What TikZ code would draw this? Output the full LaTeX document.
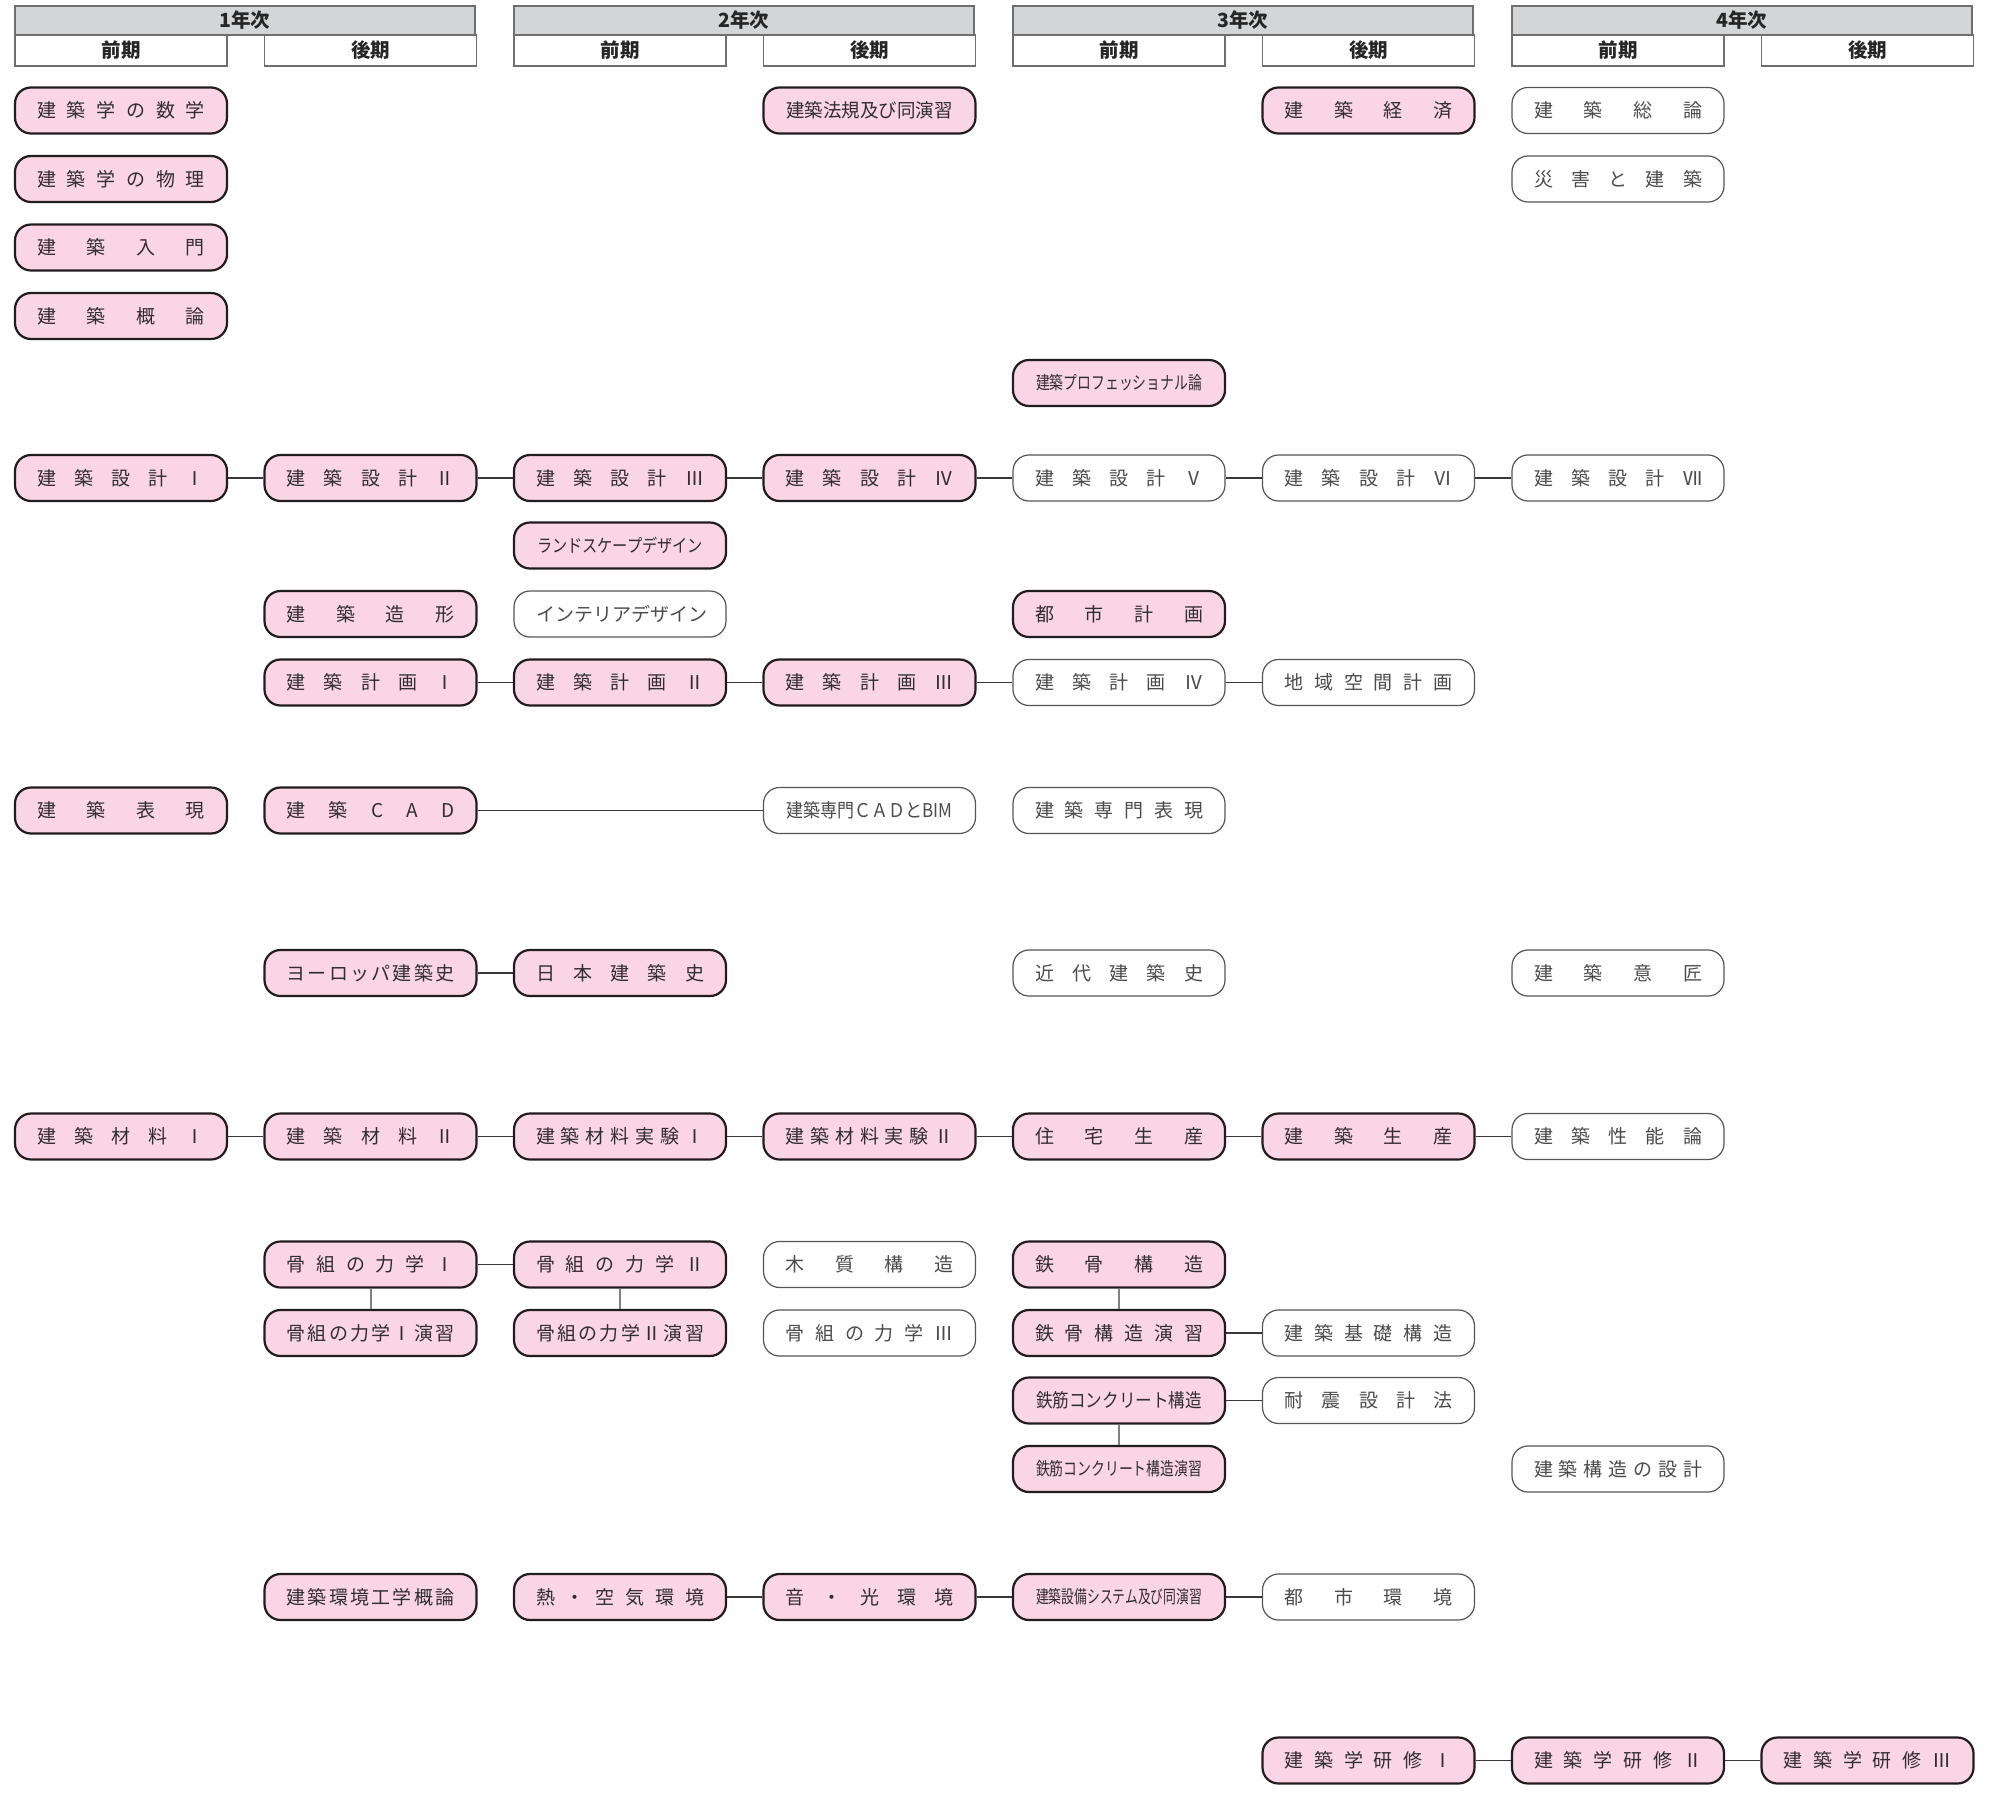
\documentclass[tikz,border=0pt]{standalone}
\usepackage{fontspec}
\usepackage{graphicx}
\newfontfamily\cjk{Noto Sans CJK JP}
\definecolor{pkfill}{RGB}{249,213,229}
\definecolor{pkline}{RGB}{35,28,28}
\definecolor{pktext}{RGB}{50,45,48}
\definecolor{wtline}{RGB}{85,85,85}
\definecolor{wttext}{RGB}{75,75,75}
\definecolor{hdfill}{RGB}{212,213,214}
\definecolor{hdline}{RGB}{110,110,110}
\definecolor{cnline}{RGB}{55,55,55}
\definecolor{vline}{RGB}{128,128,128}
% spread characters evenly across a fixed width
\def\spreadA#1{\ifx#1\relax\else#1\expandafter\spreadB\fi}
\def\spreadB#1{\ifx#1\relax\else\hfill#1\expandafter\spreadB\fi}
\newcommand\spr[1]{\hbox to 168pt{\spreadA#1\relax}}
\newsavebox\lbbox
\newcommand\fitlab[1]{\sbox\lbbox{#1}\ifdim\wd\lbbox>166pt\scalebox{\fpeval{166/(\the\wd\lbbox)}}[1]{\usebox\lbbox}\else\usebox\lbbox\fi}
\newcommand\smallf{\fontsize{18}{18}\selectfont}
\tikzset{
  box/.style={rounded corners=16pt, minimum width=212pt, minimum height=46pt,
    inner sep=0pt, font=\cjk\fontsize{19}{19}\selectfont},
  pk/.style={box, draw=pkline, line width=2.2pt, fill=pkfill, text=pktext},
  wt/.style={box, draw=wtline, line width=1.2pt, fill=white, text=wttext},
  yr/.style={draw=hdline, line width=1.2pt, fill=hdfill, minimum width=460pt,
    minimum height=29pt, inner sep=0pt, font=\cjk\bfseries\fontsize{19.5}{19.5}\selectfont, text=black!85},
  sem/.style={draw=hdline, line width=1.2pt, fill=white, minimum width=212pt,
    minimum height=31pt, inner sep=0pt, font=\cjk\bfseries\fontsize{19.5}{19.5}\selectfont, text=black!85},
  conn/.style={draw=cnline, line width=1.5pt},
  vconn/.style={draw=vline, line width=2pt}
}
\begin{document}
\begin{tikzpicture}[x=1pt,y=-1pt]
\useasboundingbox (0,0) rectangle (1989,1811);
% header
\foreach \k/\t in {0/1年次,1/2年次,2/3年次,3/4年次}{
  \node[yr] (yr\k) at ({245+499*\k},20.5) {\t};
  \node[sem] (zen\k) at ({121+499*\k},50.5) {前期};
  \node[sem] (kou\k) at ({370.5+499*\k},50.5) {後期};
}
% column centres: 121 + 249.5 k
\def\cA{121}\def\cB{370.5}\def\cC{620}\def\cD{869.5}
\def\cE{1119}\def\cF{1368.5}\def\cG{1618}\def\cH{1867.5}
% row 1-5
\node[pk] (suugaku) at (\cA,110.5) {\spr{建築学の数学}};
\node[pk] (houki) at (\cD,110.5) {\fitlab{建築法規及び同演習}};
\node[pk] (keizai) at (\cF,110.5) {\spr{建築経済}};
\node[wt] (souron) at (\cG,110.5) {\spr{建築総論}};
\node[pk] (butsuri) at (\cA,179) {\spr{建築学の物理}};
\node[wt] (saigai) at (\cG,179) {\spr{災害と建築}};
\node[pk] (nyumon) at (\cA,247.5) {\spr{建築入門}};
\node[pk] (gairon) at (\cA,316) {\spr{建築概論}};
\node[pk] (prof) at (\cE,383) {\fitlab{\smallf 建築プロフェッショナル論}};
% design
\node[pk] (s1) at (\cA,478) {\spr{建築設計Ⅰ}};
\node[pk] (s2) at (\cB,478) {\spr{建築設計Ⅱ}};
\node[pk] (s3) at (\cC,478) {\spr{建築設計Ⅲ}};
\node[pk] (s4) at (\cD,478) {\spr{建築設計Ⅳ}};
\node[wt] (s5) at (\cE,478) {\spr{建築設計Ⅴ}};
\node[wt] (s6) at (\cF,478) {\spr{建築設計Ⅵ}};
\node[wt] (s7) at (\cG,478) {\spr{建築設計Ⅶ}};
\node[pk] (land) at (\cC,545.5) {\fitlab{\smallf ランドスケープデザイン}};
\node[pk] (zoukei) at (\cB,614) {\spr{建築造形}};
\node[wt] (interior) at (\cC,614) {\spr{インテリアデザイン}};
\node[pk] (toshi) at (\cE,614) {\spr{都市計画}};
% planning
\node[pk] (p1) at (\cB,682.5) {\spr{建築計画Ⅰ}};
\node[pk] (p2) at (\cC,682.5) {\spr{建築計画Ⅱ}};
\node[pk] (p3) at (\cD,682.5) {\spr{建築計画Ⅲ}};
\node[wt] (p4) at (\cE,682.5) {\spr{建築計画Ⅳ}};
\node[wt] (p5) at (\cF,682.5) {\spr{地域空間計画}};
% expression
\node[pk] (hyogen) at (\cA,810.5) {\spr{建築表現}};
\node[pk] (cad) at (\cB,810.5) {\spr{建築CAD}};
\node[wt] (bim) at (\cD,810.5) {\fitlab{建築専門ＣＡＤとBIM}};
\node[wt] (senmon) at (\cE,810.5) {\spr{建築専門表現}};
% history
\node[pk] (europe) at (\cB,973) {\spr{ヨーロッパ建築史}};
\node[pk] (nihon) at (\cC,973) {\spr{日本建築史}};
\node[wt] (kindai) at (\cE,973) {\spr{近代建築史}};
\node[wt] (isho) at (\cG,973) {\spr{建築意匠}};
% materials
\node[pk] (m1) at (\cA,1136.5) {\spr{建築材料Ⅰ}};
\node[pk] (m2) at (\cB,1136.5) {\spr{建築材料Ⅱ}};
\node[pk] (m3) at (\cC,1136.5) {\spr{建築材料実験Ⅰ}};
\node[pk] (m4) at (\cD,1136.5) {\spr{建築材料実験Ⅱ}};
\node[pk] (m5) at (\cE,1136.5) {\spr{住宅生産}};
\node[pk] (m6) at (\cF,1136.5) {\spr{建築生産}};
\node[wt] (m7) at (\cG,1136.5) {\spr{建築性能論}};
% structures
\node[pk] (f1) at (\cB,1264.5) {\spr{骨組の力学Ⅰ}};
\node[pk] (f2) at (\cC,1264.5) {\spr{骨組の力学Ⅱ}};
\node[wt] (mokushitsu) at (\cD,1264.5) {\spr{木質構造}};
\node[pk] (tekkotsu) at (\cE,1264.5) {\spr{鉄骨構造}};
\node[pk] (f1e) at (\cB,1333) {\spr{骨組の力学Ⅰ演習}};
\node[pk] (f2e) at (\cC,1333) {\spr{骨組の力学Ⅱ演習}};
\node[wt] (f3) at (\cD,1333) {\spr{骨組の力学Ⅲ}};
\node[pk] (tekkotsue) at (\cE,1333) {\spr{鉄骨構造演習}};
\node[wt] (kiso) at (\cF,1333) {\spr{建築基礎構造}};
\node[pk] (rc) at (\cE,1400.5) {\fitlab{鉄筋コンクリート構造}};
\node[wt] (taishin) at (\cF,1400.5) {\spr{耐震設計法}};
\node[pk] (rce) at (\cE,1469) {\fitlab{\smallf 鉄筋コンクリート構造演習}};
\node[wt] (kozosekkei) at (\cG,1469) {\spr{建築構造の設計}};
% environment
\node[pk] (e1) at (\cB,1597) {\spr{建築環境工学概論}};
\node[pk] (e2) at (\cC,1597) {\spr{熱・空気環境}};
\node[pk] (e3) at (\cD,1597) {\spr{音・光環境}};
\node[pk] (e4) at (\cE,1597) {\fitlab{\smallf 建築設備システム及び同演習}};
\node[wt] (e5) at (\cF,1597) {\spr{都市環境}};
% training
\node[pk] (k1) at (\cF,1760.5) {\spr{建築学研修Ⅰ}};
\node[pk] (k2) at (\cG,1760.5) {\spr{建築学研修Ⅱ}};
\node[pk] (k3) at (\cH,1760.5) {\spr{建築学研修Ⅲ}};
% connectors
\draw[conn] (s1) -- (s2); \draw[conn] (s2) -- (s3); \draw[conn] (s3) -- (s4);
\draw[conn] (s4) -- (s5); \draw[conn] (s5) -- (s6); \draw[conn] (s6) -- (s7);
\draw[conn] (p1) -- (p2); \draw[conn] (p2) -- (p3); \draw[conn] (p3) -- (p4);
\draw[conn] (p4) -- (p5);
\draw[conn] (cad) -- (bim);
\draw[conn] (europe) -- (nihon);
\draw[conn] (m1) -- (m2); \draw[conn] (m2) -- (m3); \draw[conn] (m3) -- (m4);
\draw[conn] (m4) -- (m5); \draw[conn] (m5) -- (m6); \draw[conn] (m6) -- (m7);
\draw[conn] (f1) -- (f2);
\draw[vconn] (f1) -- (f1e); \draw[vconn] (f2) -- (f2e);
\draw[vconn] (tekkotsu) -- (tekkotsue);
\draw[conn] (tekkotsue) -- (kiso);
\draw[conn] (rc) -- (taishin);
\draw[vconn] (rc) -- (rce);
\draw[conn] (e2) -- (e3); \draw[conn] (e3) -- (e4); \draw[conn] (e4) -- (e5);
\draw[conn] (k1) -- (k2); \draw[conn] (k2) -- (k3);
\end{tikzpicture}
\end{document}
